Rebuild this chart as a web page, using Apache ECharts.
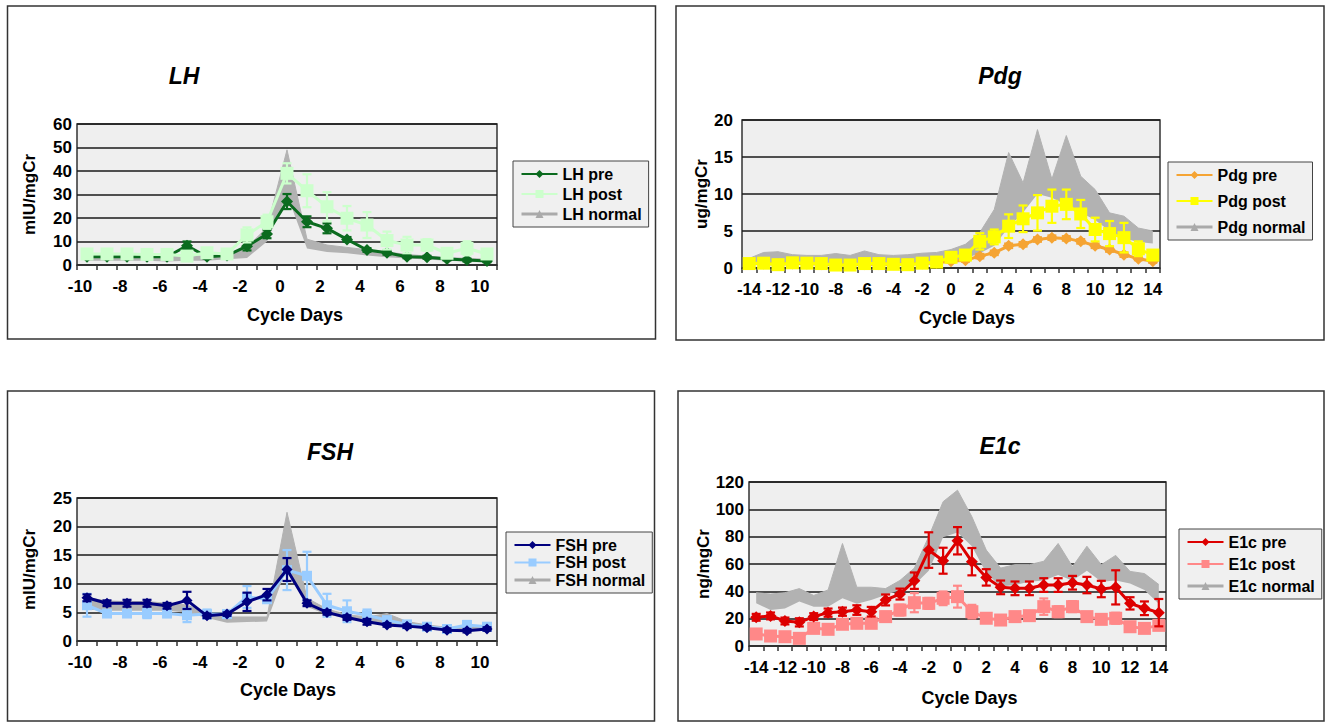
<!DOCTYPE html>
<html><head><meta charset="utf-8">
<script src="https://cdn.jsdelivr.net/npm/echarts@6/dist/echarts.min.js"></script>
<style>html,body{margin:0;padding:0;background:#fff}#c{width:1333px;height:722px}</style>
</head><body><div id="c"></div>
<script>
// ---------- DATA ----------
const lhDays = [-10,-9,-8,-7,-6,-5,-4,-3,-2,-1,0,1,2,3,4,5,6,7,8,9,10];
const pdgDays = [-14,-13,-12,-11,-10,-9,-8,-7,-6,-5,-4,-3,-2,-1,0,1,2,3,4,5,6,7,8,9,10,11,12,13,14];
const fshDays = [-10,-9,-8,-7,-6,-5,-4,-3,-2,-1,0,1,2,3,4,5,6,7,8,9,10];
const e1cDays = [-14,-13,-12,-11,-10,-9,-8,-7,-6,-5,-4,-3,-2,-1,0,1,2,3,4,5,6,7,8,9,10,11,12,13,14];
const shortTickLabels = [-10,-8,-6,-4,-2,0,2,4,6,8,10];

const lhPre      = [3.5,3.5,3.5,3.5,3.5,8.2,3.5,4.0,8.0,13.2,27.0,18.4,15.6,10.9,6.4,5.2,3.5,3.3,2.6,2.1,1.7];
const lhPreErr   = [0.8,0.8,0.8,0.8,0.8,1.8,0.8,0.8,1.8,1.8,3.2,2.3,2.1,1.0,0.8,0.8,0.6,0.6,0.6,0.6,0.5];
const lhPost     = [4.7,4.7,4.7,4.5,4.5,3.8,5.2,4.7,12.8,18.4,39.0,31.6,24.8,19.9,17.0,10.4,8.5,8.5,5.0,7.1,4.7];
const lhPostErr  = [1.5,1.2,1.2,1.2,1.2,1.5,1.5,1.5,3.2,3.0,4.3,7.0,6.2,5.2,5.5,3.8,3.5,2.5,1.5,3.0,1.8];
const lhNormLow  = [1.8,1.8,1.8,1.8,1.5,1.8,1.8,2.5,3.0,10,30,7,5.5,5,4,3.3,2.8,2.3,1.8,1.5,1.2];
const lhNormHigh = [3.8,3.8,3.8,3.8,3.5,3.8,3.8,4.5,7.5,16,49,11,8.5,7.5,6.5,5.5,4.5,3.8,3.2,2.8,2.5];

const pdgPre      = [0.6,0.6,0.5,0.6,0.6,0.5,0.4,0.4,0.5,0.5,0.5,0.5,0.6,0.7,0.9,1.05,1.6,2.05,3.0,3.2,3.85,4.1,4.0,3.6,3.0,2.5,1.8,1.25,0.9];
const pdgPreErr   = [0.2,0.2,0.2,0.2,0.2,0.2,0.2,0.2,0.2,0.2,0.2,0.2,0.2,0.2,0.2,0.2,0.3,0.3,0.3,0.3,0.3,0.3,0.3,0.3,0.3,0.3,0.3,0.2,0.2];
const pdgPost     = [0.6,0.65,0.45,0.7,0.65,0.6,0.4,0.4,0.6,0.6,0.5,0.45,0.65,0.8,1.45,1.75,3.6,4.2,5.65,6.65,7.45,8.35,8.6,7.3,5.2,4.65,4.1,2.6,1.75];
const pdgPostErr  = [0.3,0.3,0.3,0.3,0.3,0.3,0.3,0.3,0.3,0.3,0.3,0.3,0.3,0.3,0.4,0.5,1.1,1.0,1.6,1.8,2.4,2.25,2.0,1.9,1.6,1.7,2.0,1.0,0.6];
const pdgNormLow  = [0.3,0.5,0.5,0.5,0.4,0.4,0.4,0.4,0.5,0.5,0.5,0.5,0.6,0.8,1.0,1.3,2.0,3.0,5.5,7.5,10,9.5,8.5,7.5,6.5,5.0,4.0,3.5,3.3];
const pdgNormHigh = [1.3,2.1,2.2,1.8,1.7,1.7,1.95,1.7,2.3,1.8,1.7,1.8,2.0,2.1,2.5,3.2,4.8,7.9,15.6,11.5,18.7,12.0,17.9,12.4,10.6,7.45,7.0,5.4,5.0];

const fshPre      = [7.55,6.6,6.6,6.6,6.15,7.1,4.4,4.7,6.85,8.1,12.5,6.6,5.0,4.1,3.35,2.8,2.6,2.3,1.9,1.8,2.1];
const fshPreErr   = [0.6,0.5,0.6,0.6,0.5,1.5,0.4,0.3,1.6,1.0,2.0,0.5,0.4,0.4,0.5,0.3,0.3,0.3,0.3,0.3,0.3];
const fshPost     = [6.25,4.8,4.8,4.8,4.8,4.5,4.7,4.7,7.7,7.3,12.4,11.4,6.25,5.2,4.5,3.65,2.9,2.5,2.1,2.8,2.5];
const fshPostErr  = [2.0,0.5,0.5,0.8,0.6,1.2,0.8,0.3,1.9,0.6,3.5,4.2,2.0,1.9,1.0,0.5,0.5,0.3,0.3,0.7,0.5];
const fshNormLow  = [5.5,5.3,5.3,5.3,5.3,5.0,4.0,3.2,3.3,3.4,13,6.0,4.6,4.0,3.2,2.9,2.6,2.2,1.8,1.8,2.0];
const fshNormHigh = [7.6,7.0,6.9,6.9,6.6,6.3,4.9,4.2,4.2,4.2,22.5,7.5,5.6,4.6,4.2,4.8,3.4,2.8,2.4,2.4,2.6];

const e1cPre      = [21,22,18.3,17.3,21.5,24.4,25.1,26.3,25.1,33.7,38,47.8,70.2,62.4,77,61.7,50.2,42.9,42.2,42.2,44.6,44.6,46.3,44.6,41.7,42.9,31.2,27.6,24.4];
const e1cPreErr   = [2.5,2.5,2.5,3,2.5,3,3,3.5,3.5,4,4,6,13,9.5,10,10,6,5,5,5,5,5,5,6,6,12.5,4.5,5,10];
const e1cPost     = [8.8,7.3,6.8,5.6,12.9,12.2,15.9,16.6,16.6,21.5,26.3,31.7,31.2,34.9,36.1,25.1,20.3,19,21.5,22.2,28.8,25.1,28.8,21.5,19.5,20.3,14.1,12.9,15.1];
const e1cPostErr  = [2.5,2.5,2.5,2.5,3,3,3,3,3,3.5,4,7,4,5,8,5,3,3,3,3,6,4,4,3,3,4,3,3,3];
const e1cNormLow  = [31.2,26.3,27.5,32.5,28.8,28.8,35,31,33.7,37.3,41,44.6,55,79.5,83,73,53.4,43.5,44.6,47,48,52,48,55,47,48,45.8,41,31];
const e1cNormHigh = [39,38,39,42,37,41,75,43,43,42,48,57,80,105.6,114,94.6,70.2,57,59.5,59.5,62,75,58,73,59.5,66.3,54.6,53,45];

// ---------- BUILD ----------
const FONT = '"Liberation Sans", Arial, Helvetica, sans-serif';
const NORMAL = '#b2b2b2';

const panels = [
  { key:'LH', days:lhDays, pre:lhPre, preErr:lhPreErr, post:lhPost, postErr:lhPostErr, low:lhNormLow, high:lhNormHigh,
    grid:{left:77, top:124, width:420, height:141}, yMax:60, yInt:10, yName:'mIU/mgCr', yNameGap:39, yLabelMargin:5,
    preColor:'#0b6b1f', postColor:'#ccffcc', preSym:'diamond', preSize:12, postSym:'rect', postSize:13, postOnTop:true,
    title:[184,76], legend:{left:513, top:161, itemGap:4}, onTicks:true, xNameGap:41, xNameShift:16 },
  { key:'Pdg', days:pdgDays, pre:pdgPre, preErr:pdgPreErr, post:pdgPost, postErr:pdgPostErr, low:pdgNormLow, high:pdgNormHigh,
    grid:{left:742, top:120, width:418, height:148}, yMax:20, yInt:5, yName:'ug/mgCr', yNameGap:31, yLabelMargin:9,
    preColor:'#f5a433', postColor:'#ffff00', preSym:'diamond', preSize:12, postSym:'rect', postSize:13, postOnTop:true,
    title:[1000,76], legend:{left:1168, top:162, itemGap:10}, onTicks:false, xNameGap:41, xNameShift:32 },
  { key:'FSH', days:fshDays, pre:fshPre, preErr:fshPreErr, post:fshPost, postErr:fshPostErr, low:fshNormLow, high:fshNormHigh,
    grid:{left:77, top:498, width:420, height:143}, yMax:25, yInt:5, yName:'mIU/mgCr', yNameGap:39, yLabelMargin:5,
    preColor:'#00007f', postColor:'#99ccff', preSym:'diamond', preSize:11, postSym:'rect', postSize:10, postOnTop:false,
    title:[330,452], legend:{left:506, top:532, itemGap:1.5}, onTicks:true, xNameGap:40, xNameShift:2 },
  { key:'E1c', days:e1cDays, pre:e1cPre, preErr:e1cPreErr, post:e1cPost, postErr:e1cPostErr, low:e1cNormLow, high:e1cNormHigh,
    grid:{left:749, top:482, width:417, height:164}, yMax:120, yInt:20, yName:'ng/mgCr', yNameGap:28, yLabelMargin:5,
    preColor:'#dd0000', postColor:'#ff8888', preSym:'diamond', preSize:12, postSym:'rect', postSize:13, postOnTop:false,
    title:[1000,446], legend:{left:1179, top:529, itemGap:6}, onTicks:false, xNameGap:43, xNameShift:24 }
];

function errRender(color){
  return function(params, api){
    const i = api.value(0), v = api.value(1), e = api.value(2);
    const t = api.coord([i, v + e]);
    const b = api.coord([i, Math.max(v - e, 0)]);
    const hw = 4.5;
    const st = {stroke: color, lineWidth: 2.2};
    return {type:'group', children:[
      {type:'line', shape:{x1:t[0], y1:t[1], x2:b[0], y2:b[1]}, style:st},
      {type:'line', shape:{x1:t[0]-hw, y1:t[1], x2:t[0]+hw, y2:t[1]}, style:st},
      {type:'line', shape:{x1:b[0]-hw, y1:b[1], x2:b[0]+hw, y2:b[1]}, style:st}
    ]};
  };
}

const option = {
  animation:false, backgroundColor:'#fff',
  grid:[], xAxis:[], yAxis:[], series:[], legend:[], graphic:[]
};

const boxes = [[7.5,6,648,333],[676,6,648,334],[7.5,391,647,330],[678,391,646,330]];
boxes.forEach(b => option.graphic.push({type:'rect', shape:{x:b[0], y:b[1], width:b[2], height:b[3]},
  style:{fill:'#fff', stroke:'#333', lineWidth:1.5}, z:-10, silent:true}));

const labelStyle = {color:'#000', fontWeight:'bold', fontSize:17, fontFamily:FONT};

panels.forEach((p, gi) => {
  option.grid.push(Object.assign({show:true, backgroundColor:'#efefef', borderColor:'#333', borderWidth:1.5}, p.grid));
  const catIdx = option.xAxis.length;
  option.xAxis.push({
    type:'category', gridIndex:gi, position:'bottom', data:p.days.map(String), boundaryGap:true,
    axisLine:{show:true, lineStyle:{color:'#333', width:1.5}},
    axisTick:{show:true, interval:0, length:5, lineStyle:{color:'#333', width:1.5}},
    axisLabel: p.onTicks ? {show:false} : Object.assign({interval:1, margin:13}, labelStyle),
    name:'Cycle Days', nameLocation:'middle', nameGap:p.xNameGap,
    nameTextStyle:{color:'#000', fontWeight:'bold', fontSize:18, fontFamily:FONT, padding:[0,0,0,p.xNameShift]},
    splitLine:{show:false}
  });
  if (p.onTicks) {
    option.xAxis.push({
      type:'value', gridIndex:gi, position:'bottom', offset:0,
      min:p.days[0], max:p.days[p.days.length-1] + 1, interval:1,
      axisLine:{show:false}, axisTick:{show:false}, splitLine:{show:false},
      axisLabel:Object.assign({margin:13, padding:[0,0,0,6], showMaxLabel:true, showMinLabel:true,
        formatter: v => shortTickLabels.indexOf(v) >= 0 ? String(v) : ''}, labelStyle)
    });
  }
  const yIdx = option.yAxis.length;
  option.yAxis.push({
    type:'value', gridIndex:gi, min:0, max:p.yMax, interval:p.yInt,
    axisLine:{show:false}, axisTick:{show:false},
    axisLabel:Object.assign({margin:p.yLabelMargin}, labelStyle),
    splitLine:{show:true, lineStyle:{color:'#1a1a1a', width:1.5}},
    name:p.yName, nameLocation:'middle', nameGap:p.yNameGap, nameRotate:90,
    nameTextStyle:{color:'#000', fontWeight:'bold', fontSize:17, fontFamily:FONT}
  });

  const ax = {xAxisIndex:catIdx, yAxisIndex:yIdx};
  const stackKey = p.key + 'norm';
  option.series.push(Object.assign({type:'line', name:p.key + ' normal base', stack:stackKey, data:p.low,
    symbol:'none', lineStyle:{opacity:0}, silent:true, z:1}, ax));
  option.series.push(Object.assign({type:'line', name:p.key + ' normal', stack:stackKey,
    data:p.high.map((h, i) => +(h - p.low[i]).toFixed(3)),
    symbol:'triangle', symbolSize:9, showSymbol:false, lineStyle:{color:NORMAL, width:1}, itemStyle:{color:NORMAL},
    areaStyle:{color:NORMAL, opacity:1}, silent:true, z:1}, ax));

  const preS = [
    Object.assign({type:'line', name:p.key + ' pre', data:p.pre, symbol:p.preSym, symbolSize:p.preSize, showAllSymbol:true,
      lineStyle:{color:p.preColor, width:3}, itemStyle:{color:p.preColor}, z:4}, ax),
    Object.assign({type:'custom', name:p.key + ' pre err', data:p.pre.map((v, i) => [i, v, p.preErr[i]]),
      encode:{x:0, y:1}, renderItem:errRender(p.preColor), silent:true, z:4}, ax)
  ];
  const postS = [
    Object.assign({type:'line', name:p.key + ' post', data:p.post, symbol:p.postSym, symbolSize:p.postSize, showAllSymbol:true,
      lineStyle:{color:p.postColor, width:3}, itemStyle:{color:p.postColor}, z:3}, ax),
    Object.assign({type:'custom', name:p.key + ' post err', data:p.post.map((v, i) => [i, v, p.postErr[i]]),
      encode:{x:0, y:1}, renderItem:errRender(p.postColor), silent:true, z:3}, ax)
  ];
  if (p.postOnTop) { postS.forEach(s => s.z = 5); }
  option.series.push(...preS, ...postS);

  option.legend.push({
    left:p.legend.left, top:p.legend.top, orient:'vertical', itemGap:p.legend.itemGap,
    backgroundColor:'#f0f0f0', borderColor:'#444', borderWidth:1, borderRadius:0, padding:[5,7,5,7],
    itemWidth:36, itemHeight:10, selectedMode:false,
    textStyle:{color:'#000', fontWeight:'bold', fontSize:16, fontFamily:FONT, lineHeight:16},
    data:[
      {name:p.key + ' pre'},
      {name:p.key + ' post'},
      {name:p.key + ' normal', itemStyle:{color:'#aaaaaa'}, lineStyle:{color:'#aaaaaa', width:3}}
    ]
  });

  option.graphic.push({type:'text', x:p.title[0], y:p.title[1], silent:true,
    style:{text:p.key, fill:'#000', font:'italic bold 23px ' + FONT, textAlign:'center', textVerticalAlign:'middle'}});
});

const chart = echarts.init(document.getElementById('c'), null, {renderer:'svg'});
chart.setOption(option);
</script>
</body></html>
